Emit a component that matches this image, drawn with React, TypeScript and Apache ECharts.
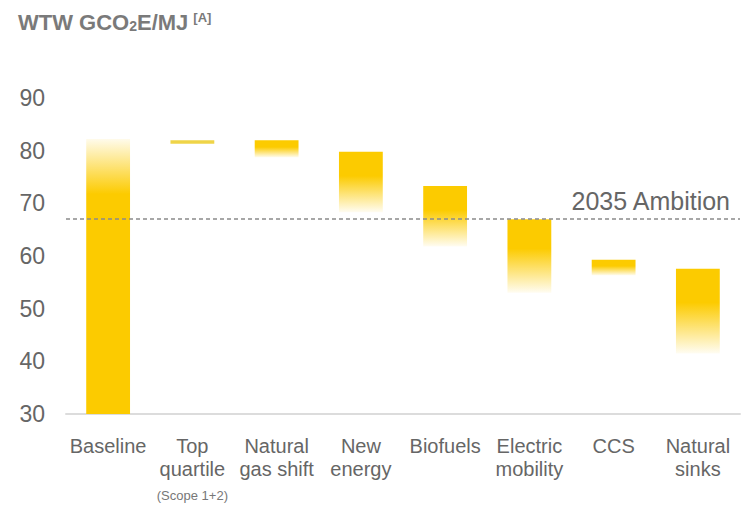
import React, { useEffect, useRef } from "react";
import * as echarts from "echarts";

const categories = [
  "Baseline",
  "Top\nquartile\n{s|(Scope 1+2)}",
  "Natural\ngas shift",
  "New\nenergy",
  "Biofuels",
  "Electric\nmobility",
  "CCS",
  "Natural\nsinks",
];
const barTops = [82.2, 82.0, 82.0, 79.8, 73.3, 67.0, 59.3, 57.6];
const barBottoms = [30, 81.3, 78.7, 68.3, 61.8, 53.0, 56.3, 41.5];
const ambitionValue = 67.0;
const ambitionLabel = "2035 Ambition";
const yMin = 30;
const yMax = 90;
const yStep = 10;

const FONT = "'Liberation Sans', Arial, sans-serif";
const YELLOW = "#FCCB00";

function grad(stops: [number, string][]) {
  return new echarts.graphic.LinearGradient(
    0,
    0,
    0,
    1,
    stops.map(([offset, color]) => ({ offset, color }))
  );
}

export default function App() {
  const ref = useRef<HTMLDivElement>(null);
  useEffect(() => {
    if (!ref.current) return;
    const chart = echarts.init(ref.current, null, { renderer: "svg" });
    const visible = barTops.map((t, i) => {
      const v = +(t - barBottoms[i]).toFixed(2);
      let color: any;
      if (i === 0) {
        color = grad([
          [0, "rgba(252,203,0,0.08)"],
          [0.2, YELLOW],
          [1, YELLOW],
        ]);
      } else if (i === 1) {
        color = "rgba(236,205,40,0.85)";
      } else {
        color = grad([
          [0, YELLOW],
          [0.4, YELLOW],
          [1, "rgba(252,203,0,0.05)"],
        ]);
      }
      return { value: v, itemStyle: { color } };
    });
    chart.setOption({
      animation: false,
      backgroundColor: "#ffffff",
      textStyle: { fontFamily: FONT },
      title: {
        left: 13,
        top: 6,
        text: "{a|WTW GCO}{sub|2}{a|E/MJ} {sup|[A]}",
        textStyle: {
          rich: {
            a: { fontSize: 22, fontWeight: "bold", color: "#7a7a7a", fontFamily: FONT },
            sub: {
              fontSize: 14,
              fontWeight: "bold",
              color: "#7a7a7a",
              fontFamily: FONT,
              verticalAlign: "bottom",
              padding: [8, 0, 0, 0],
            },
            sup: {
              fontSize: 13,
              fontWeight: "bold",
              color: "#7a7a7a",
              fontFamily: FONT,
              verticalAlign: "top",
              padding: [0, 0, 8, 0],
            },
          },
        },
      },
      grid: { left: 66, right: 6, top: 98, bottom: 88, containLabel: false },
      xAxis: {
        type: "category",
        data: categories,
        axisLine: { show: true, lineStyle: { color: "#dcdcdc", width: 2 } },
        axisTick: { show: false },
        axisLabel: {
          interval: 0,
          fontSize: 20,
          color: "#666",
          lineHeight: 23,
          margin: 20,
          fontFamily: FONT,
          rich: {
            s: { fontSize: 13, color: "#777", lineHeight: 30, fontFamily: FONT },
          },
        },
      },
      yAxis: {
        type: "value",
        min: yMin,
        max: yMax,
        interval: yStep,
        axisLine: { show: false },
        axisTick: { show: false },
        splitLine: { show: false },
        axisLabel: { fontSize: 23, color: "#666", margin: 21, fontFamily: FONT },
      },
      series: [
        {
          type: "bar",
          stack: "w",
          barWidth: "52%",
          data: barBottoms,
          itemStyle: { color: "rgba(0,0,0,0)" },
          silent: true,
        },
        {
          type: "bar",
          stack: "w",
          barWidth: "52%",
          data: visible,
          markLine: {
            silent: true,
            symbol: "none",
            lineStyle: { color: "#8a8a8a", type: [4, 3], width: 1.5 },
            label: {
              show: true,
              position: "insideEndTop",
              formatter: ambitionLabel,
              fontSize: 25,
              color: "#666",
              distance: [10, 6],
              fontFamily: FONT,
            },
            data: [{ yAxis: ambitionValue }],
          },
        },
      ],
    });
    return () => chart.dispose();
  }, []);
  return (
    <div
      ref={ref}
      style={{ position: "fixed", left: 0, top: 0, width: 746, height: 510, background: "#fff" }}
    />
  );
}
